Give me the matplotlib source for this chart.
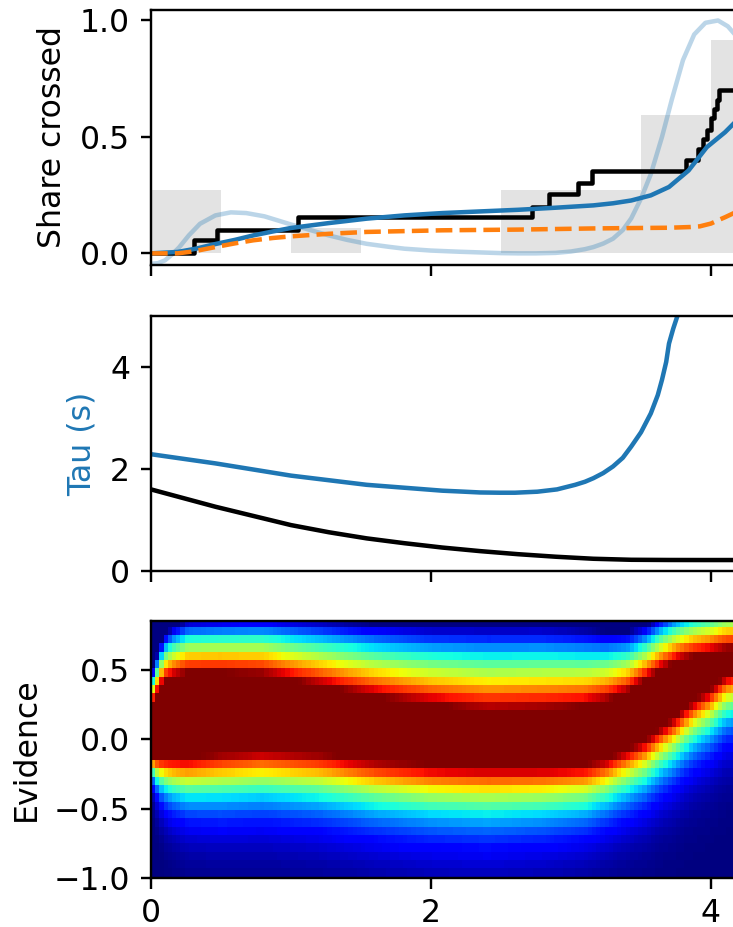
import matplotlib
matplotlib.use("Agg")
import matplotlib.pyplot as plt
import numpy as np

plt.rcParams["font.size"] = 10.5

# --- top panel: share of trials that crossed the bound ---
hist_left = [0.0, 0.5, 1.0, 1.5, 2.0, 2.5, 3.0, 3.5, 4.0]
hist_share = [0.27, 0.0, 0.109, 0.0, 0.0, 0.27, 0.27, 0.592, 0.917]

cross_t = [0.0, 0.31, 0.47, 1.05, 2.72, 2.84, 3.05, 3.15, 3.82, 3.91, 3.94,
           3.97, 4.0, 4.02, 4.04, 4.06, 5.0]
cross_share = [0.0, 0.056, 0.10, 0.156, 0.20, 0.256, 0.30, 0.353, 0.40, 0.45,
               0.49, 0.53, 0.58, 0.62, 0.66, 0.70, 0.70]

model_t = [0.0, 0.19, 0.32, 0.46, 0.6, 0.73, 0.87, 1.0, 1.27, 1.54, 1.81, 2.08,
           2.35, 2.62, 2.89, 3.16, 3.3, 3.43, 3.57, 3.7, 3.84, 3.97, 4.1, 4.16, 4.25]
model_share = [0.0, 0.006, 0.02, 0.04, 0.058, 0.077, 0.094, 0.109, 0.13, 0.149,
               0.163, 0.173, 0.18, 0.187, 0.196, 0.206, 0.215, 0.227, 0.249,
               0.285, 0.356, 0.456, 0.52, 0.556, 0.61]

base_t = [0.0, 0.19, 0.3, 0.46, 0.6, 0.73, 0.87, 1.0, 1.27, 1.54, 2.08, 2.62,
          3.16, 3.5, 3.7, 3.85, 3.92, 4.0, 4.05, 4.1, 4.16, 4.25]
base_share = [0.0, 0.0, 0.008, 0.027, 0.043, 0.056, 0.066, 0.073, 0.084, 0.092,
              0.099, 0.102, 0.107, 0.109, 0.11, 0.113, 0.116, 0.128, 0.142,
              0.155, 0.172, 0.2]

rate_t = [0.0, 0.05, 0.1, 0.15, 0.2, 0.27, 0.35, 0.46, 0.57, 0.68, 0.81, 1.0,
          1.15, 1.27, 1.4, 1.54, 1.7, 1.81, 2.0, 2.2, 2.35, 2.5, 2.62, 2.75,
          2.89, 3.0, 3.1, 3.16, 3.23, 3.3, 3.37, 3.43, 3.5, 3.57, 3.65, 3.72,
          3.8, 3.88, 3.96, 4.05, 4.12, 4.2, 4.3]
rate_val = [-0.045, -0.042, -0.03, -0.005, 0.025, 0.077, 0.127, 0.163, 0.176,
            0.173, 0.159, 0.124, 0.098, 0.077, 0.058, 0.041, 0.028, 0.02, 0.012,
            0.007, 0.004, 0.001, 0.0, 0.0, 0.002, 0.008, 0.018, 0.027, 0.042,
            0.063, 0.10, 0.15, 0.235, 0.34, 0.50, 0.66, 0.83, 0.94, 0.99, 1.0,
            0.975, 0.92, 0.80]

# --- middle panel: time constants ---
tau_t = [0.0, 0.46, 1.0, 1.54, 2.08, 2.2, 2.35, 2.49, 2.6, 2.76, 2.9, 3.03,
         3.1, 3.16, 3.23, 3.3, 3.37, 3.43, 3.5, 3.57, 3.62, 3.65, 3.68, 3.7,
         3.73, 3.76, 3.82]
tau_val = [2.29, 2.11, 1.87, 1.69, 1.575, 1.56, 1.54, 1.535, 1.535, 1.555, 1.60,
           1.69, 1.75, 1.82, 1.92, 2.05, 2.22, 2.44, 2.72, 3.09, 3.45, 3.75,
           4.1, 4.46, 4.75, 5.0, 6.0]

tau0_t = [0.0, 0.23, 0.46, 0.73, 1.0, 1.27, 1.54, 1.81, 2.08, 2.35, 2.62, 2.89,
          3.16, 3.43, 3.7, 3.95, 4.2]
tau0_val = [1.60, 1.43, 1.26, 1.08, 0.90, 0.76, 0.64, 0.545, 0.46, 0.39, 0.33,
            0.28, 0.24, 0.22, 0.216, 0.215, 0.215]

band_t = [0.0, 0.03, 0.06, 0.09, 0.15, 0.26, 0.5, 0.8, 1.2, 1.6, 2.0, 2.4, 2.8,
          3.1, 3.25, 3.4, 3.52, 3.64, 3.75, 3.87, 3.99, 4.11, 5.0]
band_hi = [0.27, 0.33, 0.39, 0.45, 0.48, 0.51, 0.51, 0.50, 0.42, 0.34, 0.28,
           0.24, 0.25, 0.27, 0.31, 0.37, 0.45, 0.53, 0.59, 0.63, 0.65, 0.68, 0.72]
band_lo = [-0.15, -0.15, -0.15, -0.15, -0.15, -0.15, -0.12, -0.10, -0.12, -0.17,
           -0.20, -0.21, -0.21, -0.20, -0.16, -0.09, -0.03, 0.065, 0.15, 0.26,
           0.34, 0.45, 0.70]
spread_hi = [0.22, 0.26, 0.30, 0.33, 0.36, 0.39, 0.40, 0.42, 0.48, 0.53, 0.57,
             0.61, 0.60, 0.56, 0.50, 0.44, 0.40, 0.40, 0.40, 0.40, 0.41, 0.42, 0.42]
spread_lo = [0.10, 0.15, 0.19, 0.22, 0.25, 0.28, 0.305, 0.31, 0.32, 0.33, 0.34,
             0.345, 0.33, 0.31, 0.30, 0.30, 0.30, 0.30, 0.30, 0.30, 0.30, 0.30, 0.30]


def density_grid(t_edges, y_edges):
    tc = (t_edges[:-1] + t_edges[1:]) / 2
    yc = (y_edges[:-1] + y_edges[1:]) / 2
    hi = np.interp(tc, band_t, band_hi)
    lo = np.interp(tc, band_t, band_lo)
    w_hi = np.interp(tc, band_t, spread_hi)
    s_lo = np.interp(tc, band_t, spread_lo)
    Y = yc[:, None]
    up = np.clip(Y - hi + 0.03, 0, None)
    down = np.clip(lo - Y + 0.02, 0, None)
    v_up = np.clip(1 - up / w_hi, 0, 1)
    v_dn = np.exp(-(down / s_lo) ** 1.3)
    return v_up * v_dn


fig = plt.figure(figsize=(733 / 216, 927 / 216), dpi=216)
left = 151 / 733
width = 840 / 733
ax1 = fig.add_axes([left, 1 - 265 / 927, width, 255 / 927])
ax2 = fig.add_axes([left, 1 - 571 / 927, width, 255 / 927], sharex=ax1)
ax3 = fig.add_axes([left, 1 - 878 / 927, width, 257 / 927], sharex=ax1)

ax1.bar(hist_left, hist_share, width=0.5, align="edge", color="0.89", zorder=0)
ax1.plot(rate_t, rate_val, color="C0", alpha=0.3)
ax1.step(cross_t, cross_share, where="post", color="k")
ax1.plot(model_t, model_share, color="C0")
ax1.plot(base_t, base_share, color="C1", linestyle="--")
ax1.set_ylim(-0.05, 1.045)
ax1.set_yticks([0.0, 0.5, 1.0])
ax1.set_ylabel("Share crossed")

ax2.plot(tau_t, tau_val, color="C0")
ax2.plot(tau0_t, tau0_val, color="k")
ax2.set_ylim(0, 5)
ax2.set_yticks([0, 2, 4])
ax2.set_ylabel("Tau (s)", color="C0")

t_edges = np.round(np.arange(0, 6.0001, 0.03), 4)
y_edges = np.round(np.arange(-1.05, 0.90, 0.06), 4)
ax3.pcolormesh(t_edges, y_edges, density_grid(t_edges, y_edges),
               cmap="jet", vmin=0, vmax=1, shading="flat")
ax3.set_ylim(-1.0, 0.85)
ax3.set_yticks([-1.0, -0.5, 0.0, 0.5])
ax3.set_ylabel("Evidence")

ax3.set_xlim(0, 6)
ax3.set_xticks([0, 2, 4])
ax3.tick_params(axis="x", pad=3)
ax1.tick_params(labelbottom=False)
ax2.tick_params(labelbottom=False)

fig.savefig("out.png", dpi=216)
